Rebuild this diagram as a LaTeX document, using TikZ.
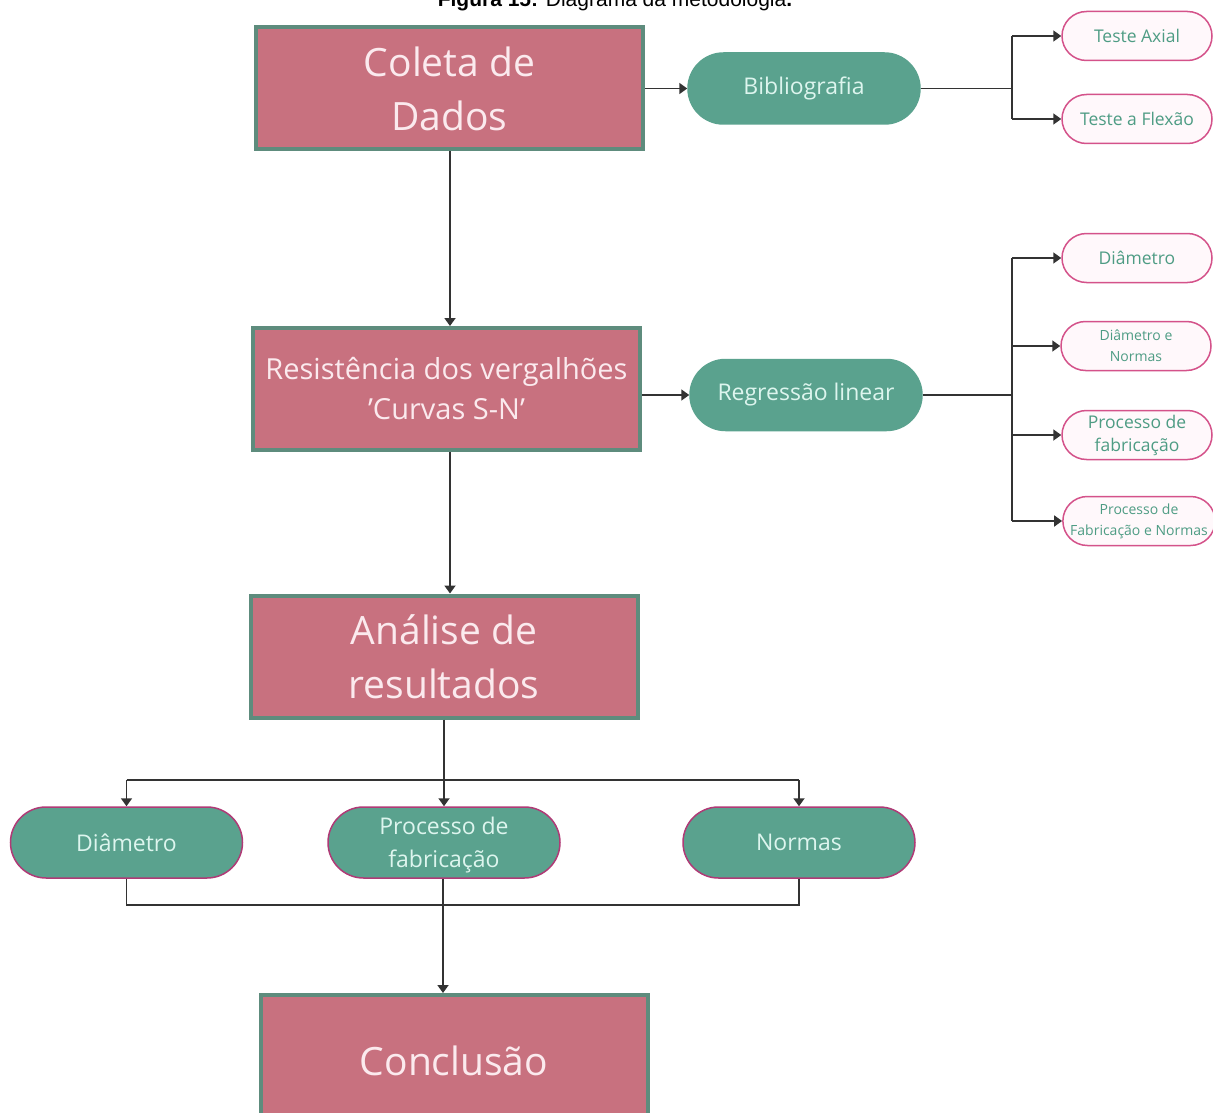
\documentclass[tikz,border=0pt]{standalone}
\usepackage{fontspec}
\setmainfont{Open Sans}
\newfontfamily\titlefont{Liberation Sans}
\usetikzlibrary{arrows.meta,shapes.misc}
\definecolor{boxpink}{HTML}{C8717F}
\definecolor{boxedge}{HTML}{5E8C7D}
\definecolor{boxtext}{HTML}{FBEAEE}
\definecolor{pillteal}{HTML}{5AA28E}
\definecolor{pilltext}{HTML}{DDF5EE}
\definecolor{pilledge}{HTML}{B03A76}
\definecolor{smallfill}{HTML}{FFF8FB}
\definecolor{smalledge}{HTML}{D4528A}
\definecolor{smalltext}{HTML}{4E9C84}
\definecolor{linecol}{HTML}{333333}
\tikzset{
  bigbox/.style={rectangle, draw=boxedge, line width=4pt, fill=boxpink, text=boxtext,
    minimum width=387pt, minimum height=122pt, align=center, inner sep=0pt,
    font=\fontsize{39}{54}\selectfont},
  midbox/.style={bigbox, font=\fontsize{29}{40}\selectfont},
  tealpill/.style={rounded rectangle, draw=pilledge, line width=1.5pt, fill=pillteal, text=pilltext,
    minimum width=232pt, minimum height=71pt, align=center, inner sep=0pt,
    font=\fontsize{23}{33}\selectfont},
  toppill/.style={tealpill, draw=pillteal},
  smallpill/.style={rounded rectangle, draw=smalledge, line width=1.5pt, fill=smallfill, text=smalltext,
    minimum width=150pt, minimum height=49pt, align=center, inner sep=0pt,
    font=\fontsize{17.5}{23}\selectfont},
  tinypill/.style={smallpill, font=\fontsize{14}{21}\selectfont},
  conn/.style={draw=linecol, line width=1.8pt},
  arr/.style={conn, -{Triangle[length=8pt,width=11pt]}},
}
\begin{document}
\begin{tikzpicture}[x=1pt,y=-1pt]
\useasboundingbox (0,0) rectangle (1213,1113);
\clip (0,0) rectangle (1213,1113);
\fill[white] (0,0) rectangle (1213,1113);
% title
\node[anchor=base, inner sep=0pt, font=\titlefont\fontsize{21}{24}\selectfont] (title) at (615,7) {\textbf{Figura 15:} Diagrama da metodologia\textbf{.}};
% main column
\node[bigbox] (coleta) at (449.5,88.5) {Coleta de\\Dados};
\node[midbox] (resist) at (446.5,389) {Resistência dos vergalhões\\'Curvas S-N'};
\node[bigbox] (analise) at (444,656.5) {Análise de\\resultados};
\node[bigbox, minimum height=140pt] (concl) at (454,1065) {\raisebox{8pt}{Conclusão}};
% teal pills
\node[toppill] (biblio) at (804,88.5) {Bibliografia};
\node[toppill] (regr) at (806,395) {Regressão linear};
\node[tealpill] (diam) at (126.5,842.5) {Diâmetro};
\node[tealpill] (proc) at (444,842.5) {\raisebox{-8pt}[0pt][0pt]{\begin{tabular}{@{}c@{}}Processo de\\fabricação\end{tabular}}};
\node[tealpill] (norm) at (799,842.5) {Normas};
% small pills
\node[smallpill] (axial) at (1137,36) {Teste Axial};
\node[smallpill] (flex) at (1137,119) {Teste a Flexão};
\node[smallpill] (sdiam) at (1137,258) {Diâmetro};
\node[tinypill] (sdnorm) at (1136,346) {Diâmetro e\\Normas};
\node[smallpill] (sproc) at (1137,435) {Processo de\\fabricação};
\node[tinypill, inner xsep=0pt] (spnorm) at (1139,521) {Processo de\\Fabricação e Normas};
% branch coordinates
\coordinate (bj) at (1012,88.5);
\coordinate (rj) at (1012,395);
\coordinate (aj) at (444,780);
\coordinate (cj) at (443,905);
% main flow
\draw[arr] (coleta.south -| 450,0) -- (resist.north -| 450,0);
\draw[arr] (resist.south -| 450,0) -- (analise.north -| 450,0);
\draw[arr] (coleta.east |- biblio) -- (biblio.west);
\draw[arr] (resist.east |- regr) -- (regr.west);
% bibliografia branch
\draw[conn] (biblio.east) -- (bj);
\draw[conn] (bj |- axial) -- (bj |- flex);
\draw[arr] (bj |- axial) -- (axial.west);
\draw[arr] (bj |- flex) -- (flex.west);
% regressao branch
\draw[conn] (regr.east) -- (rj);
\draw[conn] (rj |- sdiam) -- (rj |- spnorm);
\draw[arr] (rj |- sdiam) -- (sdiam.west);
\draw[arr] (rj |- sdnorm) -- (sdnorm.west);
\draw[arr] (rj |- sproc) -- (sproc.west);
\draw[arr] (rj |- spnorm) -- (spnorm.west);
% analise branch
\draw[conn] (analise.south -| aj) -- (aj);
\draw[conn] (aj -| diam) -- (aj -| norm);
\draw[arr] (aj -| diam) -- (diam.north);
\draw[arr] (aj) -- (proc.north);
\draw[arr] (aj -| norm) -- (norm.north);
% merge to conclusao
\draw[conn] (diam.south) -- (cj -| diam) -- (cj -| norm) -- (norm.south);
\draw[conn] (proc.south -| cj) -- (cj);
\draw[arr] (cj) -- (concl.north -| cj);
\end{tikzpicture}
\end{document}
